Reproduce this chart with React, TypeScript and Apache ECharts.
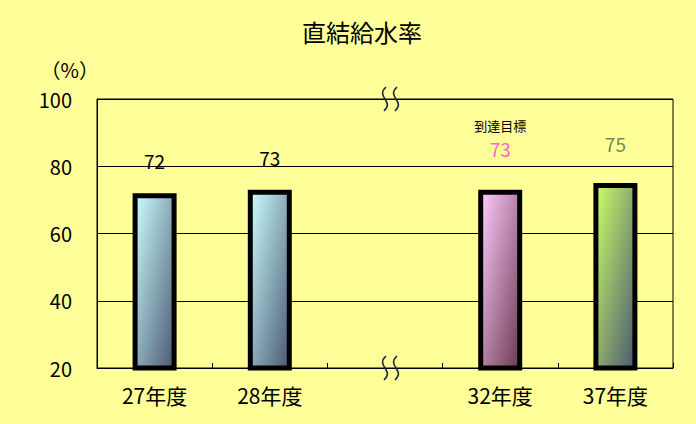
import React, { useEffect, useRef } from "react";
import * as echarts from "echarts";

const categories = ["27年度", "28年度", "", "32年度", "37年度"];
const rates = [72, 73, null, 73, 75];
const yTicks = [20, 40, 60, 80, 100];

const FONT = "'Noto Sans CJK JP', sans-serif";

const App: React.FC = () => {
  const chartRef = useRef<HTMLDivElement>(null);

  useEffect(() => {
    if (!chartRef.current) return;
    const chart = echarts.init(chartRef.current, undefined, { renderer: "svg" });

    // diagonal fill, light top-left to dark bottom-right
    const grad = (from: string, to: string) =>
      new echarts.graphic.LinearGradient(0, 0, 1, 1, [
        { offset: 0, color: from },
        { offset: 1, color: to },
      ]);
    const fills = [
      grad("#ccffff", "#4a5872"),
      grad("#ccffff", "#4a5872"),
      null,
      grad("#ffccff", "#6a3a50"),
      grad("#ccff66", "#4a5872"),
    ];

    const seriesData = rates.map((v, i) => {
      if (v === null) return "-";
      const item: any = {
        value: v,
        itemStyle: { color: fills[i], borderColor: "#000", borderWidth: 5 },
        label: { distance: 23, color: "#000" },
      };
      if (i === 3) {
        item.label = {
          distance: 28,
          formatter: "{a|到達目標}\n{b|{c}}",
          rich: {
            a: { fontSize: 13, color: "#000", fontFamily: FONT, lineHeight: 20 },
            b: { fontSize: 19, color: "#ff66cc", fontFamily: FONT, lineHeight: 26 },
          },
        };
      }
      if (i === 4) item.label = { distance: 30, color: "#778855" };
      return item;
    });

    chart.setOption({
      animation: false,
      backgroundColor: "#ffff99",
      title: {
        text: "直結給水率",
        left: 357,
        top: 14,
        textAlign: "center",
        textStyle: { fontSize: 24, fontWeight: "normal", color: "#000", fontFamily: FONT },
      },
      grid: {
        left: 97,
        right: 23,
        top: 99,
        bottom: 56,
        show: true,
        borderColor: "#000",
        borderWidth: 1,
        backgroundColor: "transparent",
      },
      xAxis: {
        type: "category",
        data: categories,
        axisLine: { lineStyle: { color: "#000", width: 1 } },
        axisTick: { show: true, inside: true, length: 5, lineStyle: { color: "#000" } },
        axisLabel: { fontSize: 21, color: "#000", fontFamily: FONT, margin: 16 },
      },
      yAxis: {
        type: "value",
        min: yTicks[0],
        max: yTicks[yTicks.length - 1],
        interval: 20,
        name: "（%）",
        nameLocation: "end",
        nameGap: 20,
        nameTextStyle: { fontSize: 20, color: "#000", fontFamily: FONT, align: "right", padding: [0, -2, 0, 0] },
        axisLine: { show: true, lineStyle: { color: "#000", width: 1 } },
        axisTick: { show: false },
        axisLabel: { fontSize: 20, color: "#000", fontFamily: FONT, margin: 25 },
        splitLine: { lineStyle: { color: "#000", width: 1 } },
      },
      series: [
        {
          type: "bar",
          data: seriesData,
          barWidth: 44,
          label: {
            show: true,
            position: "top",
            fontSize: 19,
            fontFamily: FONT,
          },
        },
      ],
    });

    // break marks on the empty category, top and bottom of the plot
    const top = chart.convertToPixel({ gridIndex: 0 }, [2, yTicks[yTicks.length - 1]]);
    const bot = chart.convertToPixel({ gridIndex: 0 }, [2, yTicks[0]]);
    const wave = (cx: number, cy: number) => ({
      type: "bezierCurve",
      shape: {
        x1: cx + 1,
        y1: cy - 12,
        cpx1: cx - 10,
        cpy1: cy - 2,
        cpx2: cx + 10,
        cpy2: cy + 2,
        x2: cx - 1,
        y2: cy + 12,
      },
      style: { stroke: "#1a2a40", lineWidth: 1.6, fill: null },
      z: 100,
    });
    const marks: any[] = [];
    [top, bot].forEach((p) => {
      marks.push(wave(p[0], p[1]), wave(p[0] + 11, p[1]));
    });
    chart.setOption({ graphic: marks });

    return () => {
      chart.dispose();
    };
  }, []);

  return (
    <div
      ref={chartRef}
      style={{ position: "absolute", left: 0, top: 0, width: "696px", height: "424px" }}
    />
  );
};

export default App;
